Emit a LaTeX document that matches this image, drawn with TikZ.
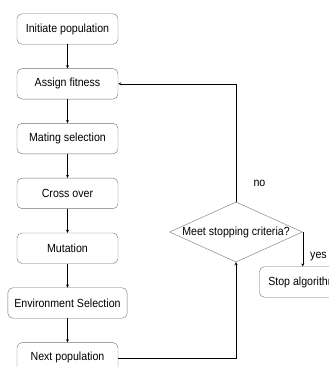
\documentclass[tikz,border=0pt]{standalone}
\usepackage{fontspec}
\setmainfont{Liberation Sans}[FakeStretch=0.9]
\usetikzlibrary{shapes.geometric, arrows, positioning}

\definecolor{boxgray}{gray}{0.45}
\tikzset{
	>=stealth,
	stepbox/.style={draw=boxgray, rounded corners=5pt, fill=white, minimum width=101pt,
		minimum height=30.5pt, inner xsep=6.5pt, align=center},
	decide/.style={draw=boxgray, diamond, aspect=2.2, inner sep=0pt,
		minimum width=133pt, minimum height=60pt},
	flow/.style={->, thin, black}
}

\begin{document}
\begin{tikzpicture}[x=1pt, y=1pt, node distance=23.9pt,
		every node/.style={font=\fontsize{11.8}{14}\selectfont}]
		\useasboundingbox (0,0) rectangle (329,-367);
		\clip (0,0) rectangle (329,-367);
		% main column
		\node[stepbox] (init) at (67.5,-29) {Initiate population};
		\node[stepbox, below=of init] (assign) {Assign fitness};
		\node[stepbox, below=of assign] (mating) {Mating selection};
		\node[stepbox, below=of mating] (cross) {Cross over};
		\node[stepbox, below=of cross] (mutate) {Mutation};
		\node[stepbox, below=of mutate] (envsel) {Environment Selection};
		\node[stepbox, below=of envsel] (next) {Next population};
		% decision and end
		\node[decide] (crit) at (236,-232) {Meet stopping criteria?};
		\node[stepbox, minimum width=86pt] (stop) at (302.5,-282) {Stop algorithm};

		\draw[flow] (init) -- (assign);
		\draw[flow] (assign) -- (mating);
		\draw[flow] (mating) -- (cross);
		\draw[flow] (cross) -- (mutate);
		\draw[flow] (mutate) -- (envsel);
		\draw[flow] (envsel) -- (next);
		\draw[flow] (next.east) -| (crit.south);
		\draw[flow] (crit.north) |- (assign.east) node[pos=0.08, anchor=west, xshift=14pt] {no};
		\draw[flow] (crit.east) -- (crit.east |- stop.north) node[pos=0.72, anchor=west, xshift=4pt] {yes};
	\end{tikzpicture}
\end{document}
